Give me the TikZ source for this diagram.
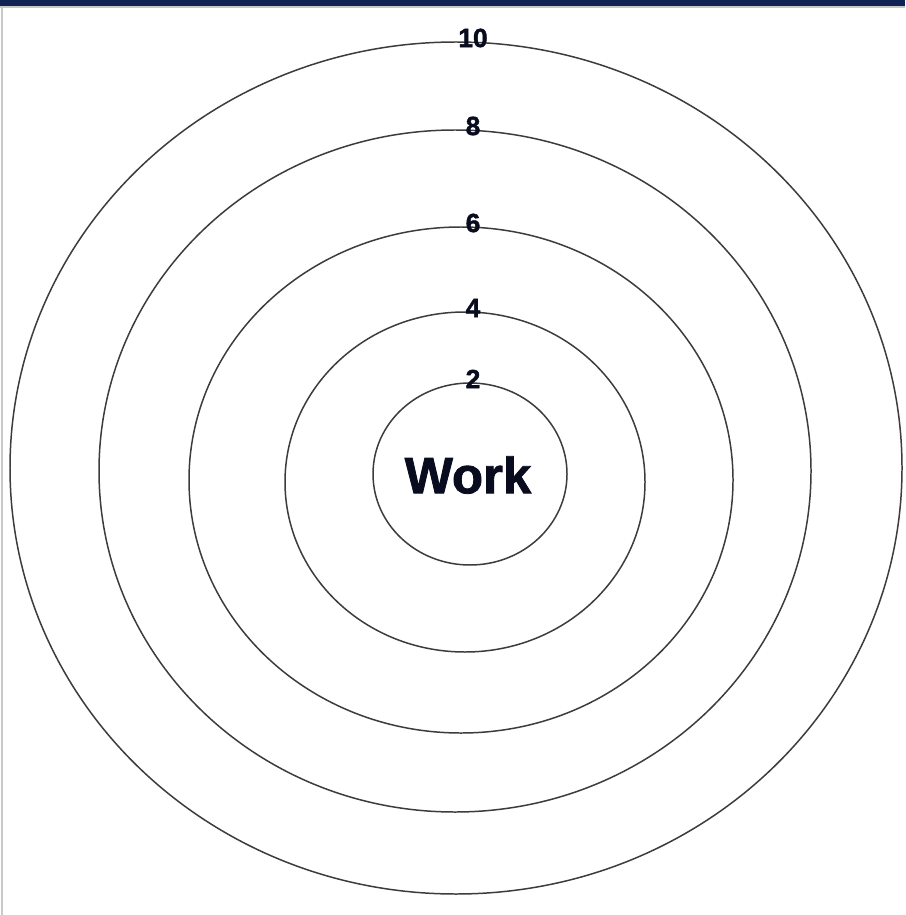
\documentclass[tikz,border=0pt]{standalone}
\usepackage{fontspec}
\setmainfont{Liberation Sans}
\newfontfamily\heavyfont{Liberation Sans}[BoldFeatures={FakeBold=1.6}]
\usetikzlibrary{positioning}
\definecolor{navy}{RGB}{16,34,84}
\definecolor{ink}{RGB}{8,12,30}
\definecolor{ring}{RGB}{60,60,60}
\definecolor{edge}{RGB}{200,200,200}

\begin{document}
\begin{tikzpicture}[x=0.02cm,y=-0.02cm]
    \useasboundingbox (0,0) rectangle (905,915);
    \fill[white] (0,0) rectangle (905,915);
    % frame
    \fill[navy] (0,0) rectangle (905,6);
    \fill[edge] (0,6) rectangle (905,8);
    \fill[edge] (1,8) rectangle (3,915);
    % rings, inner to outer
    \foreach \n/\cx/\cy/\rx/\ry [count=\i] in {
      2/470/474/97/91,
      4/465/482/180/170,
      6/461/480/272/253,
      8/455/471/356/341,
      10/456/468/446/426}
    {
      \draw[ring,line width=0.85pt] (\cx,\cy) ellipse [x radius=\rx,y radius=\ry];
      \pgfmathsetmacro{\ty}{\cy-\ry}
      \node[font=\heavyfont\fontsize{15}{15}\selectfont\bfseries,text=ink,inner sep=0pt] (lbl\i) at (473,\ty-4) {\n};
    }
    \node[font=\heavyfont\fontsize{29}{29}\selectfont\bfseries,text=ink,inner sep=0pt] (work) at (468,475) {Work};
  \end{tikzpicture}
\end{document}
